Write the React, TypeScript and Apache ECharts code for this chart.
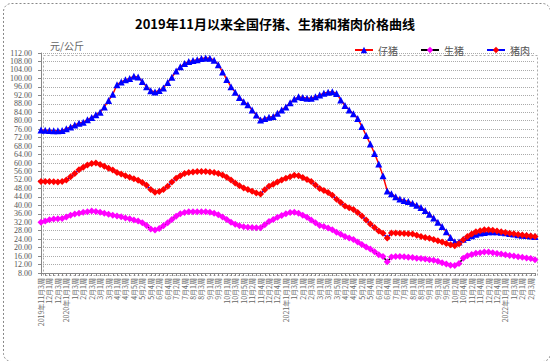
import React, { useEffect, useRef } from "react";
import * as echarts from "echarts";

// [year, month, firstWeek, lastWeek]
const periods: [number, number, number, number][] = [
  [2019, 11, 3, 4], [2019, 12, 1, 4],
  [2020, 1, 1, 4], [2020, 2, 1, 4], [2020, 3, 1, 4], [2020, 4, 1, 5], [2020, 5, 1, 4], [2020, 6, 1, 4],
  [2020, 7, 1, 5], [2020, 8, 1, 4], [2020, 9, 1, 4], [2020, 10, 1, 5], [2020, 11, 1, 4], [2020, 12, 1, 5],
  [2021, 1, 1, 4], [2021, 2, 1, 4], [2021, 3, 1, 5], [2021, 4, 1, 4], [2021, 5, 1, 4], [2021, 6, 1, 5],
  [2021, 7, 1, 4], [2021, 8, 1, 4], [2021, 9, 1, 5], [2021, 10, 1, 4], [2021, 11, 1, 4], [2021, 12, 1, 5],
  [2022, 1, 1, 4], [2022, 2, 1, 4],
];

const categories: string[] = [];
periods.forEach(([y, m, f, l], pi) => {
  for (let w = f; w <= l; w++) {
    const withYear = (pi === 0 && w === f) || (m === 1 && w === 1);
    categories.push((withYear ? `${y}年` : "") + `${m}月${w}周`);
  }
});

const piglet = [
  75.6, 75.5, 75.4, 75.3, 75.2, 75.4, 76.2, 77.0, 78.0, 78.8,
  79.3, 80.5, 81.5, 82.8, 84.0, 86.5, 89.5, 92.5, 97.0, 98.3,
  99.3, 100.0, 101.0, 100.6, 98.5, 96.0, 94.2, 93.6, 94.3, 95.5,
  98.0, 100.5, 103.5, 105.5, 107.0, 108.0, 108.4, 108.8, 109.4, 109.6,
  109.5, 108.6, 106.5, 103.0, 99.5, 96.0, 93.5, 91.0, 89.0, 87.5,
  85.0, 82.7, 80.3, 81.0, 81.6, 82.0, 83.5, 85.0, 86.5, 88.5,
  90.2, 91.3, 91.0, 90.6, 90.6, 91.3, 92.1, 93.0, 93.5, 93.7,
  92.9, 89.8, 87.2, 85.0, 83.3, 81.0, 77.3, 73.0, 69.0, 64.5,
  59.5, 54.0, 46.8, 45.5, 44.0, 43.0, 42.3, 41.8, 41.0, 40.0,
  39.0, 37.5, 35.8, 34.0, 32.0, 30.0, 27.5, 24.8, 22.8, 22.6,
  23.9, 24.8, 25.6, 26.3, 26.9, 27.2, 27.5, 27.5, 27.5, 27.3,
  27.0, 26.7, 26.4, 26.1, 25.9, 25.7, 25.5, 25.3,
];

const hog = [
  32.0, 32.6, 33.2, 33.5, 33.6, 33.8, 34.5, 35.3, 35.9, 36.3,
  36.7, 37.0, 37.3, 37.1, 36.7, 36.3, 35.8, 35.3, 34.9, 34.6,
  34.0, 33.6, 33.0, 32.6, 31.8, 30.5, 28.8, 28.3, 29.0, 30.3,
  31.8, 33.3, 34.8, 36.0, 36.6, 36.9, 37.0, 37.0, 37.0, 36.9,
  36.7, 36.3, 35.5, 34.5, 33.3, 32.0, 31.0, 30.3, 29.9, 29.6,
  29.5, 29.4, 29.4, 30.8, 32.3, 33.3, 34.3, 35.2, 36.0, 36.6,
  36.7, 36.3, 35.3, 34.3, 33.0, 31.8, 30.5, 30.0, 29.3, 28.5,
  27.3, 26.3, 25.2, 24.5, 23.8, 22.6, 21.5, 20.3, 19.3, 18.0,
  16.6, 15.8, 13.3, 15.6, 15.8, 15.8, 15.7, 15.5, 15.3, 15.0,
  14.8, 14.6, 14.3, 14.0, 13.6, 12.9, 12.3, 11.7, 11.6, 12.5,
  15.0, 16.2, 16.8, 17.3, 17.6, 17.9, 17.9, 17.6, 17.2, 17.0,
  16.6, 16.3, 16.0, 15.7, 15.4, 15.1, 14.8, 14.3,
];

const pork = [
  51.2, 51.3, 51.2, 51.1, 51.0, 51.2, 52.0, 53.5, 55.0, 56.8,
  58.0, 59.0, 59.8, 60.0, 59.3, 58.5, 57.5, 56.7, 55.5, 54.8,
  54.0, 53.3, 52.5, 51.8, 50.8, 49.5, 47.5, 46.2, 46.5, 47.5,
  49.0, 51.0, 52.8, 54.0, 55.0, 55.5, 55.8, 56.0, 56.0, 56.0,
  55.8, 55.5, 55.0, 54.3, 53.3, 52.0, 50.5, 49.3, 48.2, 47.5,
  46.6, 45.8, 45.3, 47.4, 49.0, 50.0, 51.0, 52.0, 52.8, 53.5,
  54.2, 54.0, 53.2, 52.2, 51.2, 49.6, 48.0, 47.0, 46.0, 44.8,
  42.9, 41.3, 39.7, 38.8, 38.0, 36.6, 35.0, 33.0, 31.2, 29.5,
  27.8, 26.8, 24.5, 26.9, 26.9, 26.8, 26.7, 26.6, 26.4, 25.9,
  25.3, 24.8, 24.4, 23.8, 23.2, 22.6, 22.0, 21.3, 20.9, 21.8,
  23.7, 25.3, 26.4, 27.5, 28.0, 28.5, 28.5, 28.2, 27.9, 27.5,
  27.1, 26.8, 26.5, 26.2, 26.0, 25.7, 25.5, 25.2,
];

const seriesNames = ["仔猪", "生猪", "猪肉"];
const titleText = "2019年11月以来全国仔猪、生猪和猪肉价格曲线";
const unitText = "元/公斤";

export default function App() {
  const ref = useRef<HTMLDivElement>(null);
  useEffect(() => {
    if (!ref.current) return;
    const chart = echarts.init(ref.current, undefined, { renderer: "svg" });
    const cjk = "'Noto Sans CJK SC', sans-serif";
    chart.setOption({
      animation: false,
      backgroundColor: "#ffffff",
      title: {
        text: titleText,
        left: "center",
        top: 12,
        textStyle: { fontSize: 13, fontWeight: "bold", color: "#000", fontFamily: cjk },
      },
      legend: {
        data: seriesNames,
        left: 349,
        top: 40,
        itemGap: 22,
        itemWidth: 18,
        itemHeight: 8,
        textStyle: { fontSize: 10, color: "#555", fontFamily: cjk },
      },
      graphic: [
        {
          type: "rect",
          left: 1,
          top: 1,
          shape: { width: 547, height: 358, r: 8 },
          style: { fill: "none", stroke: "#888", lineWidth: 1, lineDash: [2, 2] },
          silent: true,
        },
        {
          type: "rect",
          left: 41,
          top: 53,
          shape: { width: 494, height: 220 },
          style: { fill: "none", stroke: "#aaa", lineWidth: 1, lineDash: [2, 2] },
          silent: true,
          z: -1,
        },
        {
          type: "text",
          left: 50,
          top: 40,
          style: { text: unitText, fontSize: 10, fill: "#666", fontFamily: cjk },
        },
      ],
      grid: { left: 41, right: 15, top: 53, bottom: 88 },
      xAxis: {
        type: "category",
        data: categories,
        boundaryGap: false,
        axisLine: { lineStyle: { color: "#888" } },
        axisTick: { interval: 0, length: 3, lineStyle: { color: "#888" } },
        axisLabel: {
          interval: 1,
          rotate: 90,
          fontSize: 7,
          lineHeight: 7,
          color: "#666",
          margin: 5,
          fontFamily: cjk,
        },
      },
      yAxis: {
        type: "value",
        min: 8,
        max: 112,
        interval: 4,
        axisLine: { show: true, lineStyle: { color: "#888" } },
        axisTick: { show: true, length: 3, lineStyle: { color: "#888" } },
        axisLabel: {
          formatter: (v: number) => v.toFixed(2),
          fontSize: 8,
          lineHeight: 8,
          color: "#555",
          margin: 9,
          fontFamily: "'Liberation Serif', serif",
        },
        splitLine: { lineStyle: { color: "#aaa", type: "dotted", width: 1 } },
      },
      series: [
        {
          name: seriesNames[0],
          type: "line",
          data: piglet,
          symbol: "triangle",
          symbolSize: 7,
          showAllSymbol: true,
          itemStyle: { color: "#0000FF" },
          lineStyle: { color: "#FF0000", width: 1.5 },
        },
        {
          name: seriesNames[1],
          type: "line",
          data: hog,
          symbol: "diamond",
          symbolSize: 7,
          showAllSymbol: true,
          itemStyle: { color: "#FF00FF" },
          lineStyle: { color: "#000000", width: 1.5 },
        },
        {
          name: seriesNames[2],
          type: "line",
          data: pork,
          symbol: "diamond",
          symbolSize: 7,
          showAllSymbol: true,
          itemStyle: { color: "#FF0000" },
          lineStyle: { color: "#0000FF", width: 1.5 },
        },
      ],
    });
    return () => chart.dispose();
  }, []);
  return (
    <div
      ref={ref}
      style={{ position: "fixed", left: 0, top: 0, width: 550, height: 361, background: "#fff" }}
    />
  );
}
